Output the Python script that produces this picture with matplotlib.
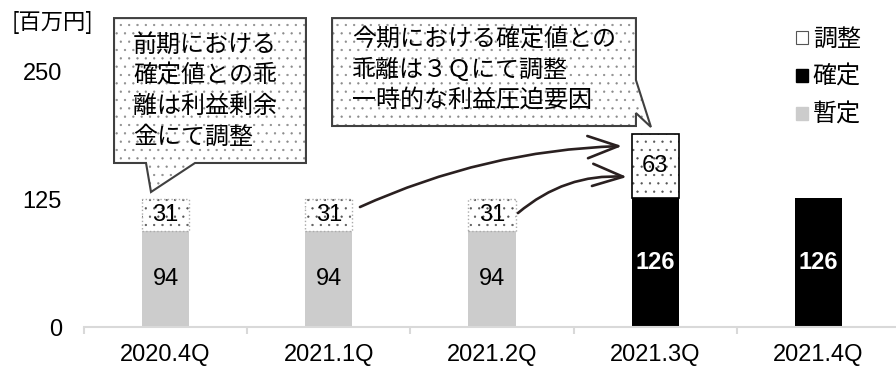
import numpy as np
import matplotlib
matplotlib.use('Agg')
import matplotlib.pyplot as plt
from matplotlib.patches import Polygon, Patch

plt.rcParams['font.family'] = ['Liberation Sans', 'Noto Sans CJK JP', 'DejaVu Sans']
plt.rcParams['hatch.linewidth'] = 0.4

JP = ['Noto Sans CJK JP', 'DejaVu Sans']

categories = ['2020.4Q', '2021.1Q', '2021.2Q', '2021.3Q', '2021.4Q']
zantei = [94, 94, 94, 0, 0]       # 暫定
kakutei = [0, 0, 0, 126, 126]     # 確定
chosei = [31, 31, 31, 63, 0]      # 調整
yticks = [0, 125, 250]

note1 = '前期における\n確定値との乖\n離は利益剰余\n金にて調整'
note2 = '今期における確定値との\n乖離は３Ｑにて調整\n一時的な利益圧迫要因'

x = np.arange(len(categories))
w = 0.29
base = np.array(zantei) + np.array(kakutei)

fig = plt.figure(figsize=(8.96, 3.67), dpi=100)
ax = fig.add_axes([84/896, 40/367, 816/896, 327/367])

ax.bar(x, zantei, w, color='#cccccc', linewidth=0)
ax.bar(x, kakutei, w, color='black', linewidth=0)
# adjustment bars: dotted fill, dotted grey edge for provisional ones, solid for 3Q
ax.bar(x, chosei, w, bottom=base, facecolor='white', edgecolor='#555555',
       linewidth=0, hatch='..')
for i in range(len(x)):
    if chosei[i] == 0:
        continue
    if zantei[i] > 0:
        ax.bar(x[i], chosei[i], w, bottom=base[i], fill=False,
               edgecolor='#aaaaaa', linestyle=':', linewidth=1.0)
    else:
        ax.bar(x[i], chosei[i], w, bottom=base[i], fill=False,
               edgecolor='black', linewidth=1.2)

for i in range(len(x)):
    if zantei[i]:
        ax.text(x[i], zantei[i] / 2, str(zantei[i]), ha='center', va='center',
                fontsize=17, color='black')
    if kakutei[i]:
        ax.text(x[i], kakutei[i] / 2, str(kakutei[i]), ha='center', va='center',
                fontsize=17, color='white', fontweight='bold')
    if chosei[i]:
        ax.text(x[i], base[i] + chosei[i] / 2, str(chosei[i]), ha='center',
                va='center', fontsize=17, color='black')

ax.set_xlim(-0.5, 4.5)
ax.set_ylim(0, 320)
ax.set_xticks(x)
ax.set_xticklabels(categories)
ax.set_xticks(np.arange(-0.5, 5, 1), minor=True)
ax.set_yticks(yticks)
ax.tick_params(axis='x', which='major', length=0, pad=12, labelsize=17)
ax.tick_params(axis='x', which='minor', length=5, width=1.5, color='#d9d9d9')
ax.tick_params(axis='y', length=0, pad=16, labelsize=17)
for s in ['left', 'top', 'right']:
    ax.spines[s].set_visible(False)
ax.spines['bottom'].set_color('#d9d9d9')
ax.spines['bottom'].set_linewidth(1.5)

# callouts
call1 = [(-0.316, 302.3), (0.860, 302.3), (0.860, 160.5), (0.180, 160.5),
         (-0.0895, 132.1), (-0.120, 160.5), (-0.316, 160.5)]
call2 = [(1.020, 302.3), (2.882, 302.3), (2.882, 241.7), (2.974, 195.7),
         (2.882, 209.4), (2.882, 196.7), (1.020, 196.7)]
for pts in [call1, call2]:
    ax.add_patch(Polygon(pts, closed=True, facecolor='white', edgecolor='#8a8a8a',
                         linewidth=0, hatch='..', clip_on=False, zorder=3))
    ax.add_patch(Polygon(pts, closed=True, fill=False, edgecolor='#404040',
                         linewidth=1.5, clip_on=False, zorder=4))
ax.text(-0.200, 231, note1, ha='left', va='center', fontsize=17.3,
        family=JP, linespacing=1.24, zorder=5)
ax.text(1.142, 251.5, note2, ha='left', va='center', fontsize=17.3,
        family=JP, linespacing=1.2, zorder=5)

# arrows from 1Q/2Q adjustments to 3Q
arrow = dict(arrowstyle='->,head_length=1.1,head_width=0.4', color='#2a2020',
             linewidth=1.9, mutation_scale=20, shrinkA=0, shrinkB=0)
ax.annotate('', xy=(2.797, 177.1), xytext=(1.191, 117.4),
            arrowprops=dict(arrow, connectionstyle='arc3,rad=-0.1'))
ax.annotate('', xy=(2.827, 146.8), xytext=(2.159, 111.5),
            arrowprops=dict(arrow, connectionstyle='arc3,rad=-0.2'))

handles = [Patch(facecolor='white', edgecolor='#555555', linewidth=0.8),
           Patch(facecolor='black', edgecolor='black'),
           Patch(facecolor='#cccccc', edgecolor='#cccccc')]
ax.legend(handles, ['調整', '確定', '暫定'], loc='upper left',
          bbox_to_anchor=(796/896, 1 - 26/367), bbox_transform=fig.transFigure,
          frameon=False, borderpad=0, borderaxespad=0, handlelength=0.5,
          handleheight=0.5, handletextpad=0.2, labelspacing=0.5,
          prop={'family': JP, 'size': 17.3})

fig.text(12/896, 1 - 22/367, '[百万円]', ha='left', va='center',
         fontsize=16, family=JP)

fig.savefig('out.png', dpi=100)
